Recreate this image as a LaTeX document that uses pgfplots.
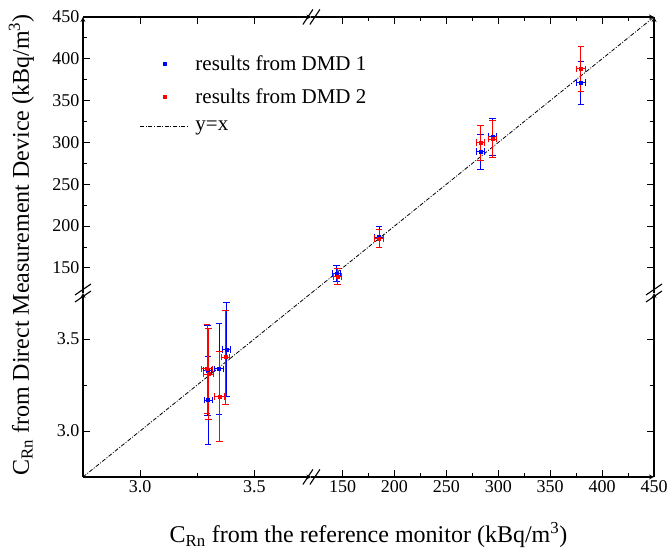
\documentclass[border=0pt]{standalone}
\usepackage{fontspec}
\setmainfont{Liberation Serif}
\usepackage{pgfplots}
\pgfplotsset{compat=1.18}

% blue = DMD 1, red = DMD 2; columns: x, y, x error, y error
\pgfplotstableread{
x     y     ex     ey
3.295 3.329 0.018 0.245
3.298 3.168 0.018 0.238
3.345 3.338 0.018 0.247
3.377 3.444 0.018 0.255
}\lowA
\pgfplotstableread{
x     y     ex     ey
3.293 3.338 0.024 0.243
3.300 3.310 0.022 0.247
3.348 3.188 0.022 0.244
3.373 3.402 0.018 0.256
}\lowB
\pgfplotstableread{
x     y     ex  ey
144   143.5 4   10
185   187   4   13
283   289   4   21
294.5 307   4   22
379.5 371.5 4   25.5
}\highA
\pgfplotstableread{
x     y     ex  ey
145   140   4   10
185   185.5 4   11
283   300   4   21
294.5 304   4   22
379.5 388   4   26.5
}\highB

\tikzset{yx/.style={black, line width=0.8pt, dash pattern=on 4pt off 1.6pt on 1pt off 1.6pt}}
\pgfplotsset{
  brk/.style={scale only axis, anchor=south west,
    x axis line style={-, line width=1.2pt},
    y axis line style={-, line width=1.2pt},
    tick align=inside, major tick length=7pt, minor tick length=4pt,
    every tick/.style={black, line width=0.9pt},
    tick label style={font=\fontsize{18}{21}\selectfont},
  },
  pts/.style={only marks, mark=square*, mark size=1.5pt, #1, mark options={#1},
    error bars/.cd, x dir=both, x explicit, y dir=both, y explicit,
    error bar style={#1, line width=0.75pt},
    error mark options={rotate=90, #1, mark size=3.3pt, line width=0.75pt}},
}

\begin{document}
\begin{tikzpicture}
% lower left
\begin{axis}[brk, at={(0pt,0pt)}, width=228.4pt, height=184pt,
  axis x line=bottom, axis y line=left, tick align=inside,
  xmin=2.75, xmax=3.75, ymin=2.75, ymax=3.75,
  xtick={3.0,3.5}, xticklabels={3.0,3.5}, minor xtick={3.25},
  ytick={3.0,3.5}, yticklabels={3.0,3.5}, minor ytick={3.25}]
\addplot[yx] coordinates {(2.75,2.75) (3.75,3.75)};
\addplot[pts=blue] table[x=x, y=y, x error=ex, y error=ey] {\lowA};
\addplot[pts=red] table[x=x, y=y, x error=ex, y error=ey] {\lowB};
\end{axis}
% upper left (legend only)
\begin{axis}[brk, at={(0pt,184pt)}, width=228.4pt, height=276pt,
  axis x line=top, axis y line=left, tick align=inside,
  xmin=2.75, xmax=3.75, ymin=120, ymax=450,
  xtick={3.0,3.25,3.5}, xticklabels={},
  ytick={150,200,...,450}, yticklabels={150,200,250,300,350,400,450},
  minor ytick={175,225,...,425},
  legend style={draw=none, fill=none, font=\fontsize{21}{24}\selectfont,
    at={(axis description cs:0.235,0.874)}, anchor=north west, row sep=12pt,
    cells={anchor=west}}]
\addlegendimage{legend image code/.code={\path (0pt,0pt) (53pt,0pt);
  \fill[blue] (22.5pt,-1.5pt) rectangle (25.5pt,1.5pt);}}
\addlegendentry{results from DMD 1}
\addlegendimage{legend image code/.code={\path (0pt,0pt) (53pt,0pt);
  \fill[red] (22.5pt,-1.5pt) rectangle (25.5pt,1.5pt);}}
\addlegendentry{results from DMD 2}
\addlegendimage{legend image code/.code={\path (0pt,0pt) (53pt,0pt);
  \draw[yx] (0pt,0pt) -- (48pt,0pt);}}
\addlegendentry{y=x}
\end{axis}
% lower right
\begin{axis}[brk, at={(228.4pt,0pt)}, width=342.6pt, height=184pt,
  axis x line=bottom, axis y line=right, tick align=inside,
  xmin=120, xmax=450, ymin=2.75, ymax=3.75,
  xtick={150,200,...,450}, xticklabels={150,200,250,300,350,400,450},
  minor xtick={175,225,...,425},
  ytick={3.0,3.5}, yticklabels={}, minor ytick={3.25}]
\end{axis}
% upper right
\begin{axis}[brk, at={(228.4pt,184pt)}, width=342.6pt, height=276pt,
  axis x line=top, axis y line=right, tick align=inside,
  xmin=120, xmax=450, ymin=120, ymax=450,
  xtick={150,200,...,450}, xticklabels={}, minor xtick={175,225,...,425},
  ytick={150,200,...,450}, yticklabels={}, minor ytick={175,225,...,425}]
\addplot[yx] coordinates {(120,120) (450,450)};
\addplot[pts=blue] table[x=x, y=y, x error=ex, y error=ey] {\highA};
\addplot[pts=red] table[x=x, y=y, x error=ex, y error=ey] {\highB};
\end{axis}
% break marks
\foreach \d in {-3.5,3.5} {
  \draw[line width=1.1pt] (228.4pt+\d pt-5pt,-7.5pt) -- (228.4pt+\d pt+5pt,7.5pt);
  \draw[line width=1.1pt] (228.4pt+\d pt-5pt,452.5pt) -- (228.4pt+\d pt+5pt,467.5pt);
  \draw[line width=1.1pt] (-8pt,184pt+\d pt-5.5pt) -- (8pt,184pt+\d pt+5.5pt);
  \draw[line width=1.1pt] (563pt,184pt+\d pt-5.5pt) -- (579pt,184pt+\d pt+5.5pt);
}
\node[rotate=90, anchor=base, font=\fontsize{24}{28}\selectfont] at (-54pt,232pt)
  {C\textsubscript{Rn} from Direct Measurement Device (kBq/m\textsuperscript{3})};
\node[anchor=base, font=\fontsize{24}{28}\selectfont] at (285.5pt,-66pt)
  {C\textsubscript{Rn} from the reference monitor (kBq/m\textsuperscript{3})};
\pgfresetboundingbox
\path[use as bounding box] (-83pt,-74pt) rectangle (587pt,477pt);
\end{tikzpicture}
\end{document}
